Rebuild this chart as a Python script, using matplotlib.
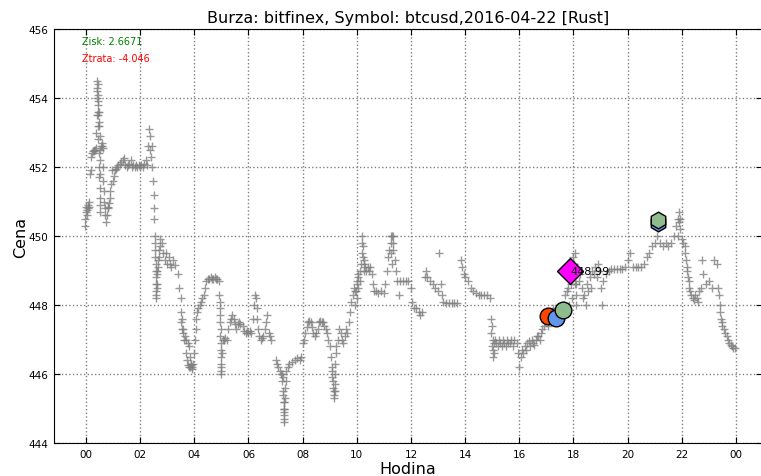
import matplotlib
matplotlib.use("Agg")
import matplotlib.pyplot as plt

# ---- data (hour of day, price) ----
hodiny = [
    -0.03, -0.02, 0.0, 0.0, 0.02, 0.04, 0.06, 0.08, 0.1, 0.12, 0.15, 0.17, 0.2, 0.22, 0.25, 0.28, 0.3, 0.33, 0.36,
    0.38, 0.39, 0.4, 0.41, 0.42, 0.43, 0.44, 0.45, 0.46, 0.47, 0.48, 0.49, 0.5, 0.5, 0.52, 0.53, 0.55, 0.58, 0.6,
    0.62, 0.63, 0.64, 0.65, 0.67, 0.7, 0.72, 0.75, 0.77, 0.8, 0.83, 0.86, 0.88, 0.9, 0.93, 0.96, 0.98, 1.02, 1.06,
    1.1, 1.15, 1.2, 1.25, 1.3, 1.35, 1.4, 1.45, 1.5, 1.55, 1.6, 1.65, 1.7, 1.75, 1.8, 1.85, 1.9, 1.95, 2.0, 2.05,
    2.1, 2.15, 2.2, 2.25,
    2.3, 2.32, 2.35, 2.37, 2.4, 2.42, 2.45, 2.47, 2.5, 2.52, 2.53, 2.55, 2.56, 2.57, 2.58, 2.59, 2.6, 2.62, 2.64,
    2.66, 2.7, 2.75, 2.8, 2.85, 2.9, 2.95, 3.0, 3.05, 3.1, 3.15, 3.2, 3.3,
    3.38, 3.45, 3.5, 3.55, 3.6, 3.65, 3.7, 3.75, 3.8, 3.83, 3.86, 3.9, 3.93, 3.96, 4.0, 4.02, 4.05, 4.08, 4.1,
    4.15, 4.2, 4.25, 4.3, 4.35, 4.4, 4.45, 4.5, 4.55, 4.6, 4.65, 4.7, 4.75, 4.8, 4.85, 4.9, 4.93, 4.94, 4.95,
    4.96, 4.97, 4.98, 4.99, 5.0, 5.02, 5.05, 5.1, 5.15, 5.2, 5.25, 5.3, 5.35, 5.4, 5.45, 5.5, 5.55, 5.6, 5.65,
    5.7, 5.8, 5.85, 5.9, 5.95, 6.0, 6.05, 6.1,
    6.15, 6.2, 6.25, 6.28, 6.3, 6.33, 6.36, 6.4, 6.45, 6.5, 6.55, 6.6, 6.65, 6.7, 6.75, 6.8, 6.85,
    7.0, 7.05, 7.1, 7.15, 7.2, 7.25, 7.28, 7.3, 7.31, 7.32, 7.33, 7.35, 7.38, 7.4, 7.45, 7.5, 7.6, 7.7, 7.8,
    7.9, 7.95,
    8.0, 8.05, 8.1, 8.15, 8.2, 8.25, 8.3, 8.35, 8.4, 8.45, 8.5, 8.55, 8.6, 8.65, 8.7, 8.75, 8.8, 8.85, 8.9,
    8.95, 9.0, 9.05, 9.08, 9.1, 9.12, 9.15, 9.18, 9.2, 9.25, 9.3, 9.35, 9.4, 9.45, 9.5, 9.55, 9.6, 9.65, 9.7,
    9.75, 9.8, 9.85, 9.9, 9.95, 10.0, 10.02, 10.05, 10.1, 10.15, 10.18, 10.2, 10.22, 10.25, 10.3, 10.35, 10.4,
    10.45, 10.5, 10.55, 10.6, 10.65, 10.7, 10.8, 10.9, 11.0, 11.05, 11.1, 11.15, 11.2, 11.25, 11.3, 11.35, 11.4,
    11.45, 11.5, 11.55, 11.6, 11.7, 11.8, 11.9, 12.0, 12.05, 12.1, 12.2, 12.3, 12.35, 12.4, 12.5, 12.55, 12.6,
    12.7, 12.8, 12.9, 13.0, 13.05, 13.1, 13.15, 13.2, 13.3, 13.4, 13.5, 13.6, 13.7, 13.85, 13.9, 13.95, 14.0,
    14.1, 14.2, 14.3, 14.4, 14.5, 14.6, 14.7, 14.8, 14.9,
    14.95, 14.97, 15.0, 15.02, 15.05, 15.1, 15.2, 15.3, 15.4, 15.5, 15.6, 15.7, 15.8, 15.9, 15.95, 16.0, 16.05,
    16.1, 16.2, 16.3, 16.4, 16.5, 16.6, 16.7, 16.8, 16.9, 17.0, 17.1, 17.2, 17.3, 17.4, 17.5, 17.6, 17.7, 17.8,
    17.85, 17.9, 17.95, 18.0, 18.05, 18.1, 18.15, 18.2, 18.3, 18.4, 18.5, 18.6, 18.7, 18.8, 18.9, 19.0, 19.05,
    19.1, 19.2, 19.3, 19.4, 19.5, 19.6, 19.7, 19.8, 19.9, 20.0, 20.1, 20.2, 20.3, 20.4, 20.5, 20.6, 20.7, 20.8,
    20.9, 21.0, 21.1, 21.2, 21.3, 21.4, 21.5, 21.6, 21.7, 21.8, 21.85, 21.9, 21.95, 22.0, 22.1, 22.15, 22.2,
    22.25, 22.3, 22.4, 22.5, 22.6, 22.7, 22.75, 22.8, 22.9, 23.0, 23.1, 23.2, 23.3, 23.35, 23.4, 23.45, 23.5,
    23.6, 23.7, 23.8, 23.9, 23.95,
    # denser clusters
    0.42, 0.43, 0.44, 0.45, 0.46, 0.47, 0.48, 0.49, 0.5, 0.51, 0.52, 0.53,
    2.55, 2.56, 2.57, 2.58, 2.6, 2.61, 2.63, 2.65, 2.68, 2.72,
    3.5, 3.52, 3.55, 3.58, 3.62, 3.68, 3.72, 3.76, 3.8, 3.85, 3.88,
    4.95, 4.96, 4.97, 4.98, 4.99, 5.0,
    7.29, 7.3, 7.31, 7.32, 7.33, 7.34, 7.22, 7.26,
    9.1, 9.12, 9.14, 9.16, 9.18, 9.2, 9.22,
    9.95, 9.97, 10.0, 10.03, 10.06, 10.1, 10.2, 10.22, 10.25, 10.28,
    11.25, 11.28, 11.3, 11.32, 11.35,
    15.0, 15.01, 15.03, 15.05, 15.15, 15.25, 15.35, 15.45, 15.55, 15.65, 15.75,
    16.15, 16.25, 16.35, 16.45, 16.55, 16.65, 16.75, 16.85, 16.95, 17.05, 17.15, 17.25, 17.35, 17.45, 17.55,
    17.65, 17.75, 17.7,
    18.0, 18.02, 18.05, 18.08, 18.1, 18.12, 18.25, 18.35, 18.45, 18.55, 18.65, 18.75, 18.85, 18.95,
    21.85, 21.9, 21.95, 22.05, 22.12, 22.18, 22.22, 22.28, 22.35, 22.45, 22.55, 22.65,
    23.38, 23.42, 23.48, 23.55, 23.65, 23.75, 23.85,
]
ceny = [
    450.3, 450.5, 450.7, 450.85, 450.6, 450.75, 450.8, 450.9, 451.0, 450.85, 451.8, 451.9, 452.3, 452.4, 452.45, 452.5, 452.45, 452.5, 452.55,
    453.0, 453.5, 454.0, 454.3, 454.5, 454.4, 454.1, 453.8, 453.5, 453.3, 453.6, 453.2, 452.9, 452.5, 452.2, 451.8, 452.6, 452.7, 452.6,
    452.55, 452.0, 451.6, 451.3, 451.0, 450.8, 450.6, 450.4, 450.6, 450.8, 450.85, 450.95, 451.1, 451.3, 451.5, 451.9, 451.6, 451.75, 451.9,
    451.95, 452.0, 452.05, 452.1, 452.15, 452.2, 452.25, 452.05, 452.0, 452.05, 452.1, 452.2, 452.0, 452.05, 452.0, 452.05, 452.0, 452.05, 452.0, 452.05,
    452.0, 452.1, 452.2, 452.05,
    452.6, 453.1, 452.9, 452.5, 452.3, 452.6, 452.0, 451.6, 451.2, 450.8, 450.5, 450.0, 449.6, 449.2, 448.8, 448.4, 448.2, 448.6, 449.0,
    449.3, 449.6, 449.9, 449.8, 449.5, 449.3, 449.5, 449.2, 449.4, 449.2, 449.1, 449.3, 449.15,
    448.9, 448.5, 448.2, 447.6, 447.3, 447.1, 447.0, 446.9, 446.8, 446.5, 446.3, 446.15, 446.2, 446.3, 446.6, 447.0, 447.3, 447.6, 447.8,
    447.9, 448.0, 448.1, 448.2, 448.3, 448.5, 448.7, 448.75, 448.75, 448.8, 448.75, 448.75, 448.8, 448.75, 448.75, 448.7, 448.3, 447.9, 447.5,
    447.1, 446.7, 446.3, 446.0, 446.2, 446.6, 447.0, 447.0, 447.05, 447.0, 447.3, 447.5, 447.6, 447.7, 447.6, 447.45, 447.3, 447.45, 447.5,
    447.45, 447.4, 447.25, 447.2, 447.25, 447.2, 447.25, 447.2,
    447.6, 448.0, 448.3, 448.2, 447.9, 447.6, 447.3, 447.1, 447.0, 447.05, 447.1, 447.3, 447.5, 447.7, 447.2, 447.1, 447.0,
    446.4, 446.3, 446.2, 446.1, 446.0, 445.8, 445.5, 445.2, 444.9, 444.6, 445.0, 445.3, 445.8, 446.1, 446.2, 446.3, 446.35, 446.4, 446.45,
    446.4, 446.5,
    446.9, 447.0, 447.2, 447.35, 447.5, 447.55, 447.5, 447.35, 447.2, 447.1, 447.2, 447.3, 447.5, 447.55, 447.5, 447.5, 447.4, 447.3, 447.2,
    447.0, 446.8, 446.5, 446.2, 445.9, 445.6, 445.3, 445.5, 446.0, 446.6, 447.0, 447.3, 447.2, 447.0, 446.9, 447.1, 447.3, 447.2, 447.5,
    447.8, 448.1, 448.3, 448.5, 448.4, 448.2, 448.6, 448.8, 449.0, 449.2, 449.5, 450.0, 449.7, 449.3, 449.1, 449.0, 449.1,
    449.0, 449.1, 448.9, 448.6, 448.4, 448.4, 448.35, 448.4, 448.35, 448.6, 449.0, 449.4, 449.6, 450.0, 450.0, 450.0, 449.3,
    449.0, 448.7, 448.3, 448.7, 448.7, 448.7, 448.7, 448.5, 448.1, 447.9, 447.9, 447.8, 447.7, 447.8, 448.8, 449.0, 448.8,
    448.7, 448.6, 448.5, 448.4, 449.5, 448.6, 448.3, 448.1, 448.05, 448.05, 448.05, 448.05, 448.05, 449.3, 449.1, 448.9, 448.8,
    448.7, 448.5, 448.4, 448.35, 448.3, 448.3, 448.3, 448.3, 448.2,
    447.6, 447.2, 446.8, 446.5, 446.9, 447.0, 446.8, 446.9, 447.0, 446.8, 446.9, 447.0, 447.0, 446.9, 446.6, 446.2, 446.5,
    446.7, 446.8, 446.9, 446.8, 446.9, 447.0, 447.1, 447.2, 447.4, 447.6, 447.7, 447.8, 447.7, 447.8, 447.8, 447.9, 448.3, 448.5,
    448.0, 448.6, 448.2, 448.8, 449.5, 448.0, 449.0, 448.7, 448.5, 448.3, 448.6, 448.8, 449.0, 449.1, 449.2, 448.5, 448.0,
    448.7, 448.9, 449.0, 449.05, 449.05, 449.05, 449.05, 449.05, 449.1, 449.3, 449.5, 449.1, 449.1, 449.1, 449.1, 449.2, 449.4, 449.5,
    449.7, 449.8, 450.0, 449.8, 449.7, 449.8, 449.7, 449.8, 450.0, 450.3, 450.5, 450.7, 450.2, 449.9, 449.7, 449.3, 449.0,
    448.7, 448.4, 448.2, 448.3, 448.1, 448.5, 449.3, 448.9, 448.6, 448.7, 448.5, 449.3, 449.2, 448.5, 448.0, 447.6, 447.4,
    447.2, 447.0, 446.85, 446.75, 446.75,
    # denser clusters
    454.2, 453.9, 453.6, 453.2, 452.8, 452.4, 452.0, 451.7, 451.4, 451.1, 450.9, 450.7,
    449.8, 449.4, 449.0, 448.6, 448.3, 448.5, 448.9, 449.1, 449.4, 449.7,
    447.8, 447.5, 447.3, 447.2, 447.0, 446.6, 446.4, 446.25, 446.2, 446.2, 446.25,
    448.1, 447.7, 447.3, 446.9, 446.5, 446.1,
    445.4, 445.0, 444.7, 444.8, 445.2, 445.6, 446.0, 445.9,
    446.1, 445.8, 445.5, 445.4, 445.7, 446.3, 446.8,
    448.0, 448.4, 448.7, 448.9, 448.5, 448.7, 449.8, 449.4, 449.2, 449.0,
    449.8, 449.5, 449.2, 449.8, 449.6,
    447.4, 447.0, 446.7, 446.6, 446.9, 447.0, 446.8, 446.9, 447.0, 446.9, 446.8,
    446.6, 446.7, 446.95, 447.0, 446.85, 447.1, 447.0, 447.3, 447.5, 447.4, 447.6, 447.9, 447.9, 447.7, 447.95,
    448.0, 448.4, 447.9,
    449.4, 449.2, 448.6, 448.3, 448.6, 449.1, 448.9, 448.2, 448.0, 448.4, 448.5, 448.9, 448.8, 449.0,
    450.0, 450.4, 450.5, 449.8, 449.5, 449.1, 448.8, 448.5, 448.3, 448.15, 448.2, 448.4,
    448.3, 447.8, 447.5, 447.3, 447.1, 446.9, 446.8,
]

# trade markers
nakup_h = [17.06, 17.36]
nakup_c = [447.68, 447.62]
nakup_barvy = ["orangered", "cornflowerblue"]
prodej_h = [17.61]
prodej_c = [447.86]
cil_h = [17.87]
cil_c = [449.0]
cil_text = "448.99"
hex_h = [21.12, 21.12]
hex_c = [450.38, 450.46]
hex_barvy = ["cornflowerblue", "darkseagreen"]

zisk = "Zisk: 2.6671"
ztrata = "Ztrata: -4.046"
tick_hodiny = list(range(0, 25, 2))
tick_ceny = list(range(444, 457, 2))

fig = plt.figure(figsize=(7.61, 4.77), dpi=100)
ax = fig.add_axes([54 / 761, 33 / 477, 708 / 761, 414 / 477])

ax.plot(hodiny, ceny, linestyle="none", marker="+", color="gray",
        markersize=5.5, markeredgewidth=1.0, alpha=0.8, zorder=2)

for h, c, col in zip(nakup_h, nakup_c, nakup_barvy):
    ax.plot([h], [c], "o", color=col, markeredgecolor="black", markersize=12, zorder=4)
ax.plot(prodej_h, prodej_c, "o", color="darkseagreen", markeredgecolor="black", markersize=12, zorder=4)
ax.plot(cil_h, cil_c, "D", color="magenta", markeredgecolor="black", markersize=13, zorder=4)
ax.text(cil_h[0], cil_c[0], cil_text, fontsize=8, ha="left", va="center", zorder=5)
for h, c, col in zip(hex_h, hex_c, hex_barvy):
    ax.plot([h], [c], "h", color=col, markeredgecolor="black", markersize=12, zorder=4)

ax.text(0.04, 0.97, zisk, color="green", fontsize=7, transform=ax.transAxes, va="center")
ax.text(0.04, 0.93, ztrata, color="red", fontsize=7, transform=ax.transAxes, va="center")

ax.set_xlim(-1.18, 24.96)
ax.set_ylim(444, 456)
ax.set_xticks(tick_hodiny)
ax.set_xticklabels(["%02d" % (h % 24) for h in tick_hodiny])
ax.set_yticks(tick_ceny)
ax.set_yticklabels([str(c) for c in tick_ceny])
ax.tick_params(direction="in", labelsize=7.5, top=True, right=True, length=4, pad=4)
ax.grid(True, linestyle=":", color="gray", linewidth=1)

ax.set_title("Burza: bitfinex, Symbol: btcusd,2016-04-22 [Rust]", fontsize=11.5, pad=5)
ax.set_xlabel("Hodina", fontsize=11.5, labelpad=2)
ax.set_ylabel("Cena", fontsize=11.5, labelpad=0)

fig.savefig("out.png", dpi=100)
